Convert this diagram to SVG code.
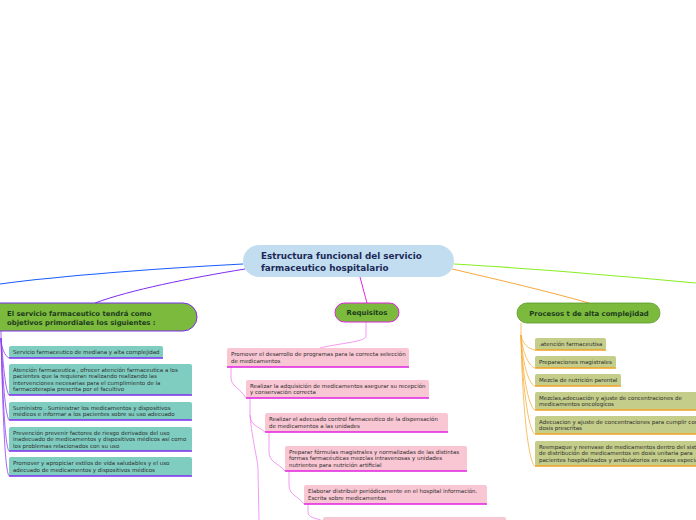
<svg xmlns="http://www.w3.org/2000/svg" width="696" height="520" viewBox="0 0 696 520">
<style>
text{font-family:"DejaVu Sans","Verdana",sans-serif;}
.t{font-size:5.5px;fill:#2e2e2e;}
.h{font-size:6.9px;font-weight:bold;fill:#1d3b1d;}
.teal{fill:#7fcdc1;}
.pink{fill:#f9c6d3;}
.olive{fill:#c4cd8a;}
.ul-p{stroke:#7b2cf0;stroke-width:1.3;fill:none;}
.ul-m{stroke:#e020e0;stroke-width:1.3;fill:none;}
.ul-o{stroke:#f0a020;stroke-width:1.3;fill:none;}
.c-p{stroke:#8a3cf0;stroke-width:0.8;fill:none;}
.c-m{stroke:#f080f0;stroke-width:0.8;fill:none;}
.c-o{stroke:#f7b040;stroke-width:0.8;fill:none;}
</style>
<rect width="696" height="520" fill="#fff"/>
<g id="connectors">
<path d="M243,264 C160,268 60,276 0,284" stroke="#1a5cff" stroke-width="1.2" fill="none"/>
<path d="M245,269 C190,278 130,290 95,303" stroke="#7b2cf0" stroke-width="1" fill="none"/>
<path d="M454,264 C540,269 620,276 696,283" stroke="#88ee22" stroke-width="1.2" fill="none"/>
<path d="M452,269 C500,280 550,292 589,303" stroke="#f7a840" stroke-width="1" fill="none"/>
<path d="M360,277 C363,288 365,296 367,303" stroke="#e020e0" stroke-width="1" fill="none"/>
<path class="c-p" d="M1,331 L1,338 C1,348 5,356 9,358"/>
<path class="c-p" d="M1,338 C3,360 5,390 9,395"/>
<path class="c-p" d="M1,338 C3,380 5,414 9,420"/>
<path class="c-p" d="M1,338 C3,400 5,446 9,451"/>
<path class="c-p" d="M1,338 C3,420 5,470 9,476"/>
<path class="c-m" d="M366,322 L366,336 C366,342 340,343 320,348"/>
<path class="c-m" d="M231,367 L231,378 C231,386 240,388 246,398"/>
<path class="c-m" d="M250,398 L250,415 C250,425 258,426 265,432"/>
<path class="c-m" d="M250,415 C252,440 258,460 258,470 L259,520"/>
<path class="c-m" d="M269,432 L269,452 C269,462 278,463 285,471"/>
<path class="c-m" d="M289,471 L289,485 C289,495 298,496 304,504"/>
<path class="c-m" d="M308,504 L308,512 C308,518 316,518 323,521"/>
<path class="c-o" d="M521,323 L521,335 C522,343 528,349 535,350"/>
<path class="c-o" d="M521,335 C522,350 528,366 535,368"/>
<path class="c-o" d="M521,335 C522,360 528,384 535,386"/>
<path class="c-o" d="M521,335 C522,370 528,407 535,410"/>
<path class="c-o" d="M521,335 C522,380 528,431 535,434"/>
<path class="c-o" d="M521,335 C522,400 528,463 535,466"/>
</g>
<g id="center">
<rect x="243" y="245" width="211" height="32" rx="16" fill="#c3ddf0"/>
<text x="261" y="259" style="font-size:8.8px;font-weight:bold;fill:#1b2a57">Estructura funcional del servicio</text>
<text x="261" y="270.5" style="font-size:8.8px;font-weight:bold;fill:#1b2a57">farmaceutico hospitalario</text>
</g>
<g id="left-header">
<path d="M-5,303 H183 A14,14 0 0 1 197,317 A14,14 0 0 1 183,331 H-5 Z" fill="#7bba3c" stroke="#7b2cf0" stroke-width="1"/>
<text class="h" x="7" y="316">El servicio farmaceutico tendrá como</text>
<text class="h" x="7" y="324.5">objetivos primordiales los siguientes :</text>
</g>
<g id="l1"><rect class="teal" x="9" y="346" width="154" height="12" rx="2"/><line class="ul-p" x1="9" y1="358" x2="163" y2="358"/>
<text class="t" x="13" y="354">Servicio farmaceutico de mediana y alta complejidad</text></g>
<g id="l2"><rect class="teal" x="9" y="364" width="183" height="31" rx="2"/><line class="ul-p" x1="9" y1="395" x2="192" y2="395"/>
<text class="t" x="13" y="371.5">Atención farmaceutica , ofrecer atención farmaceutica a los</text>
<text class="t" x="13" y="378">pacientes que la requieran realizando realizando las</text>
<text class="t" x="13" y="384.5">intervenciones necesarias para el cumplimiento de la</text>
<text class="t" x="13" y="391">farmacoterapia prescrita por el facultivo</text></g>
<g id="l3"><rect class="teal" x="9" y="402" width="183" height="18" rx="2"/><line class="ul-p" x1="9" y1="420" x2="192" y2="420"/>
<text class="t" x="13" y="409.5">Suministro . Suministrar los medicamentos y dispositivos</text>
<text class="t" x="13" y="416">médicos e informar a los pacientes sobre su uso adecuado</text></g>
<g id="l4"><rect class="teal" x="9" y="427" width="183" height="24" rx="2"/><line class="ul-p" x1="9" y1="451" x2="192" y2="451"/>
<text class="t" x="13" y="434.5">Prevención prevenir factores de riesgo derivados del uso</text>
<text class="t" x="13" y="441">inadecuado de medicamentos y dispositivos médicos así como</text>
<text class="t" x="13" y="447.5">los problemas relacionados con su uso</text></g>
<g id="l5"><rect class="teal" x="9" y="457" width="183" height="19" rx="2"/><line class="ul-p" x1="9" y1="476" x2="192" y2="476"/>
<text class="t" x="13" y="465">Promover y apropiciar estilos de vida saludables y el uso</text>
<text class="t" x="13" y="471.5">adecuado de medicamentos y dispositivos médicos</text></g>
<g id="requisitos">
<rect x="335" y="303" width="64" height="19" rx="9.5" fill="#7bba3c" stroke="#e020e0" stroke-width="1"/>
<text class="h" x="367" y="315" text-anchor="middle">Requisitos</text>
</g>
<g id="m1"><rect class="pink" x="227" y="348" width="182" height="19" rx="2"/><line class="ul-m" x1="227" y1="367" x2="409" y2="367"/>
<text class="t" x="231" y="356">Promover el desarrollo de programas para la correcta selección</text>
<text class="t" x="231" y="362.5">de medicamentos</text></g>
<g id="m2"><rect class="pink" x="246" y="380" width="183" height="18" rx="2"/><line class="ul-m" x1="246" y1="398" x2="429" y2="398"/>
<text class="t" x="250" y="387.5">Realizar la adquisición de medicamentos asegurar su recepción</text>
<text class="t" x="250" y="394">y conservación correcta</text></g>
<g id="m3"><rect class="pink" x="265" y="413" width="183" height="19" rx="2"/><line class="ul-m" x1="265" y1="432" x2="448" y2="432"/>
<text class="t" x="269" y="421">Realizar el adecuado control farmaceutico de la dispensación</text>
<text class="t" x="269" y="427.5">de medicamentos a las unidades</text></g>
<g id="m4"><rect class="pink" x="285" y="446" width="182" height="25" rx="2"/><line class="ul-m" x1="285" y1="471" x2="467" y2="471"/>
<text class="t" x="289" y="453.5">Preparar fórmulas magistrales y normalizadas de las distintas</text>
<text class="t" x="289" y="460">formas farmacéuticas mezclas intravenosas y unidades</text>
<text class="t" x="289" y="466.5">nutrientes para nutrición artificial</text></g>
<g id="m5"><rect class="pink" x="304" y="485" width="183" height="19" rx="2"/><line class="ul-m" x1="304" y1="504" x2="487" y2="504"/>
<text class="t" x="308" y="493">Elaborar distribuir periódicamente en el hospital información.</text>
<text class="t" x="308" y="499.5">Escrita sobre medicamentos</text></g>
<g id="m6"><rect class="pink" x="323" y="517" width="183" height="10" rx="2"/></g>
<g id="procesos">
<rect x="517" y="303" width="143" height="20" rx="10" fill="#7bba3c" stroke="#5a9a2a" stroke-width="0.8"/>
<text class="h" x="589" y="315.5" text-anchor="middle">Procesos t de alta complejidad</text>
</g>
<g id="r1"><rect class="olive" x="535" y="338" width="71" height="12" rx="2"/><line class="ul-o" x1="535" y1="350" x2="606" y2="350"/>
<text class="t" x="539" y="346">.atención farmaceutisa</text></g>
<g id="r2"><rect class="olive" x="535" y="356" width="81" height="12" rx="2"/><line class="ul-o" x1="535" y1="368" x2="616" y2="368"/>
<text class="t" x="539" y="364">Preparaciones magistrales</text></g>
<g id="r3"><rect class="olive" x="535" y="374" width="86" height="12" rx="2"/><line class="ul-o" x1="535" y1="386" x2="621" y2="386"/>
<text class="t" x="539" y="382">Mezcla de nutrición parental</text></g>
<g id="r4"><rect class="olive" x="535" y="392" width="170" height="18" rx="2"/><line class="ul-o" x1="535" y1="410" x2="705" y2="410"/>
<text class="t" x="539" y="399.5">Mezclas,adecuación y ajuste de concentraciones de</text>
<text class="t" x="539" y="406">medicamentos oncologicos</text></g>
<g id="r5"><rect class="olive" x="535" y="416" width="170" height="18" rx="2"/><line class="ul-o" x1="535" y1="434" x2="705" y2="434"/>
<text class="t" x="539" y="423.5">Adecuacion y ajuste de concentraciones para cumplir con</text>
<text class="t" x="539" y="430">dosis prescritas</text></g>
<g id="r6"><rect class="olive" x="535" y="441" width="170" height="25" rx="2"/><line class="ul-o" x1="535" y1="466" x2="705" y2="466"/>
<text class="t" x="539" y="448.5">Reempaque y reenvase de medicamentos dentro del sistema</text>
<text class="t" x="539" y="455">de distribución de medicamentos en dosis unitaria para</text>
<text class="t" x="539" y="461.5">pacientes hospitalizados y ambulatorios en casos especiales</text></g>
</svg>
